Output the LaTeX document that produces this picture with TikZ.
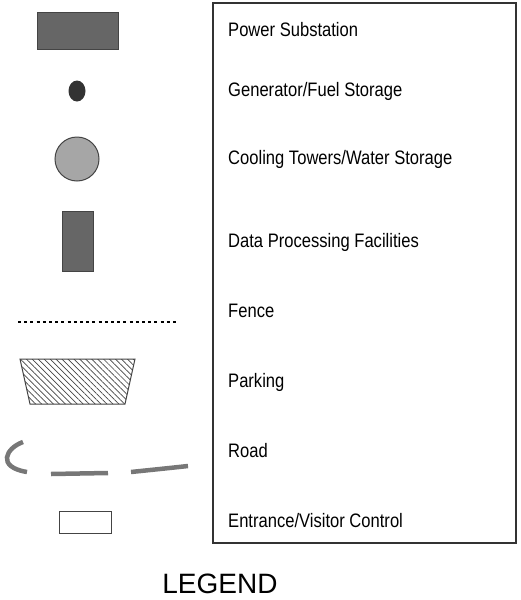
\documentclass[tikz,border=0pt]{standalone}
\usepackage{fontspec}
\setmainfont{Liberation Sans}
\newfontfamily\condfont[FakeStretch=0.85]{Liberation Sans}
\usepackage{xcolor}
\usepackage{tikz}
\usetikzlibrary{patterns.meta}

\definecolor{darkfill}{HTML}{666666}
\definecolor{edgegray}{HTML}{444444}
\definecolor{roadgray}{HTML}{777777}

\begin{document}
\begin{tikzpicture}[x=1pt, y=-1pt,
		item/.style={anchor=base west, inner sep=0pt, font=\condfont\fontsize{19.5}{22}\selectfont},
		solidbox/.style={draw=edgegray, line width=1pt, fill=darkfill},
		road/.style={draw=roadgray, line width=4.5pt}]
		\useasboundingbox (0,0) rectangle (520,600);
		
		% Legend frame
		\draw[line width=1.4pt, draw=black!80] (213,3) rectangle (516,543);
		
		% Symbols
		\draw[solidbox] (37,12) rectangle (118,49);
		\fill[black!80] (77,91) ellipse [x radius=8.5, y radius=10.5];
		\draw[draw=edgegray, line width=1pt, fill=black!35] (77,159) circle [radius=22];
		\draw[solidbox] (62,211) rectangle (93,271);
		\draw[line width=2.5pt, dash pattern=on 3pt off 3.2pt] (18,322) -- (179,322);
		\draw[line width=1pt, draw=edgegray,
		pattern={Lines[angle=-45, distance=4.2pt, line width=0.7pt]}, pattern color=edgegray]
		(20,359) -- (135,359) -- (125,404) -- (30,404) -- cycle;
		\draw[road] (23,442) .. controls (6,448) and (-4,467) .. (27,472);
		\draw[road] (51,474) -- (108,473);
		\draw[road] (131,472) .. controls (150,470) and (170,468) .. (188,466);
		\draw[draw=edgegray, line width=1pt, fill=white] (59,511) rectangle (111,533);
		
		% Labels
		\node[item] (substation) at (228,36) {Power Substation};
		\node[item] (generator) at (228,96.5) {Generator/Fuel Storage};
		\node[item] (cooling) at (228,164.5) {Cooling Towers/Water Storage};
		\node[item] (dataproc) at (228,247) {Data Processing Facilities};
		\node[item] (fence) at (228,317) {Fence};
		\node[item] (parking) at (228,387.5) {Parking};
		\node[item] (road) at (228,457.5) {Road};
		\node[item] (entrance) at (228,527.5) {Entrance/Visitor Control};
		
		% Title
		\node[anchor=base, inner sep=0pt, font=\fontsize{28}{32}\selectfont] (legend) at (220,593) {LEGEND};
	\end{tikzpicture}
\end{document}
